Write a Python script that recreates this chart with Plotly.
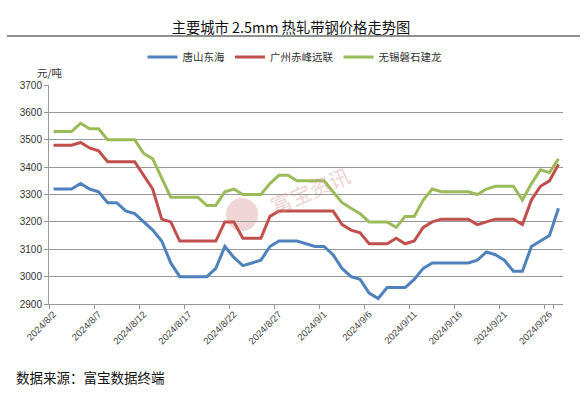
import plotly.graph_objects as go
import pandas as pd

dates = [f"{d.year}/{d.month}/{d.day}" for d in pd.date_range("2024-08-02", "2024-09-27")]

tangshan = [3320, 3320, 3320, 3340, 3320, 3310, 3270, 3270, 3240, 3230,
            3200, 3170, 3130, 3050, 3000, 3000, 3000, 3000, 3030, 3110,
            3070, 3040, 3050, 3060, 3110, 3130, 3130, 3130, 3120, 3110,
            3110, 3080, 3030, 3000, 2990, 2940, 2920, 2960, 2960, 2960,
            2990, 3030, 3050, 3050, 3050, 3050, 3050, 3060, 3090, 3080,
            3060, 3020, 3020, 3110, 3130, 3150, 3250]
guangzhou = [3480, 3480, 3480, 3490, 3470, 3460, 3420, 3420, 3420, 3420,
             3370, 3320, 3210, 3200, 3130, 3130, 3130, 3130, 3130, 3200,
             3200, 3140, 3140, 3140, 3220, 3240, 3240, 3240, 3240, 3240,
             3240, 3240, 3190, 3170, 3160, 3120, 3120, 3120, 3140, 3120,
             3130, 3180, 3200, 3210, 3210, 3210, 3210, 3190, 3200, 3210,
             3210, 3210, 3190, 3280, 3330, 3350, 3410]
wuxi = [3530, 3530, 3530, 3560, 3540, 3540, 3500, 3500, 3500, 3500,
        3450, 3430, 3360, 3290, 3290, 3290, 3290, 3260, 3260, 3310,
        3320, 3300, 3300, 3300, 3340, 3370, 3370, 3350, 3350, 3350,
        3350, 3310, 3270, 3250, 3230, 3200, 3200, 3200, 3180, 3220,
        3220, 3280, 3320, 3310, 3310, 3310, 3310, 3300, 3320, 3330,
        3330, 3330, 3280, 3340, 3390, 3380, 3430]

series_names = ["唐山东海", "广州赤峰远联", "无锡磐石建龙"]
colors = ["#4F81BD", "#C0504D", "#9BBB59"]
tick_labels = dates[::5]

W, H = 587, 393
L, R, T, B = 49, 563, 85, 304
PW, PH = R - L, B - T


def px(x):
    return (x - L) / PW


def py(y):
    return (B - y) / PH


CJK = "Noto Sans CJK SC, Liberation Sans, sans-serif"
fig = go.Figure()
for name, vals, c in zip(series_names, [tangshan, guangzhou, wuxi], colors):
    fig.add_trace(go.Scatter(x=dates, y=vals, name=name, mode="lines",
                             line=dict(color=c, width=3)))

fig.update_layout(
    width=W, height=H,
    margin=dict(l=L, r=W - R, t=T, b=H - B),
    paper_bgcolor="white", plot_bgcolor="white",
    font=dict(family=CJK, color="#222"),
    title=dict(text="主要城市 2.5mm 热轧带钢价格走势图", x=291 / W, xref="container",
               xanchor="center", y=1 - 28 / H, yref="container", yanchor="middle",
               font=dict(size=14.3, color="#111", family=CJK)),
    legend=dict(orientation="h", x=px(295), xanchor="center", y=py(57), yanchor="middle",
                font=dict(size=10.5, color="#333", family=CJK), bgcolor="rgba(0,0,0,0)",
                itemwidth=30, tracegroupgap=0),
    showlegend=True,
)
fig.update_xaxes(type="category", range=[-0.5, len(dates) - 0.5],
                 tickmode="array", tickvals=tick_labels, ticktext=tick_labels,
                 tickson="boundaries", ticks="outside", ticklen=4, tickcolor="#999",
                 showline=True, linecolor="#999", linewidth=1, showgrid=False,
                 tickangle=-45, tickfont=dict(size=9.5, color="#444", family="Liberation Sans, Arial"))
fig.update_yaxes(range=[2900, 3700], dtick=100, tick0=2900,
                 showgrid=True, gridcolor="#999", gridwidth=1,
                 showline=True, linecolor="#999", linewidth=1,
                 ticks="outside", ticklen=4, tickcolor="#999",
                 zeroline=False,
                 tickfont=dict(size=10, color="#333", family="Liberation Sans, Arial"))

# header rule
fig.add_shape(type="line", xref="paper", yref="paper", x0=px(7), x1=px(580),
              y0=py(36), y1=py(36), line=dict(color="#222", width=1.2))
# watermark
fig.add_shape(type="circle", xref="paper", yref="paper", x0=px(226), x1=px(258),
              y0=py(231), y1=py(198), fillcolor="rgba(215,150,150,0.4)",
              line=dict(width=0), layer="below")
fig.add_annotation(text="富宝资讯", xref="paper", yref="paper", x=px(310), y=py(190),
                   showarrow=False, textangle=-23,
                   font=dict(size=21, color="rgba(210,140,140,0.4)", family=CJK))
fig.add_annotation(text="元/吨", xref="paper", yref="paper", x=px(35), y=py(63),
                   showarrow=False, font=dict(size=10.5, color="#333", family=CJK))
fig.add_annotation(text="数据来源：富宝数据终端", xref="paper", yref="paper", x=px(14),
                   xanchor="left", y=py(389), showarrow=False,
                   font=dict(size=13.5, color="#111", family=CJK))

fig.write_html("out.html", config={"displayModeBar": False},
               post_script="document.body.style.margin='0';document.body.style.padding='0';")
